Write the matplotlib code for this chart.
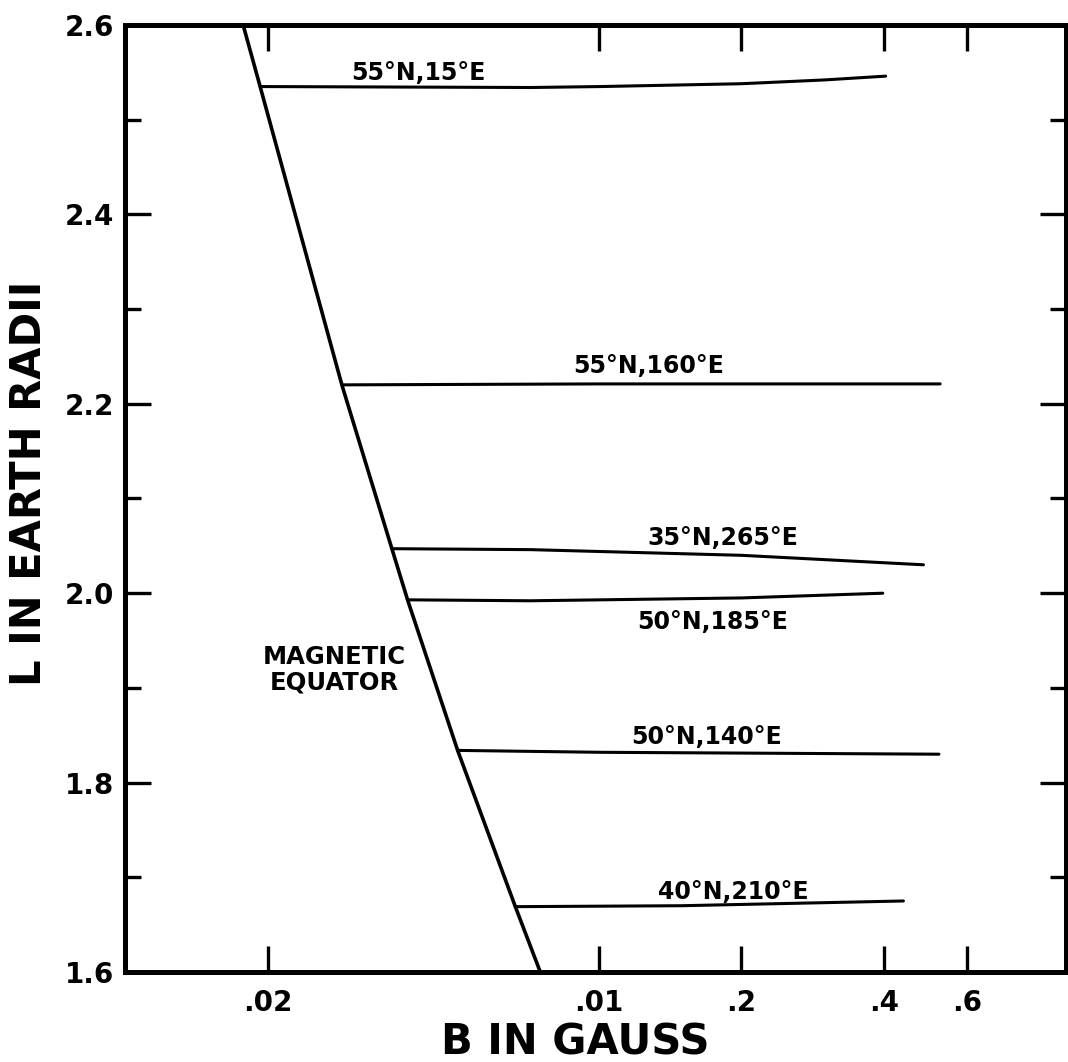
import matplotlib
matplotlib.use("Agg")
import matplotlib.pyplot as plt
from matplotlib.ticker import FixedLocator, NullLocator, FixedFormatter

# ---- data (B in gauss, L in earth radii) ----
equator_B = [0.01776, 0.01929, 0.02870, 0.03660, 0.03950, 0.05039, 0.06670, 0.0753]
equator_L = [2.600, 2.535, 2.220, 2.047, 1.993, 1.834, 1.669, 1.600]

line_55N15E_B = [0.01929, 0.0718, 0.1009, 0.2004, 0.3000, 0.4036]
line_55N15E_L = [2.535, 2.534, 2.535, 2.538, 2.542, 2.546]

line_55N160E_B = [0.02870, 0.1000, 0.526]
line_55N160E_L = [2.220, 2.221, 2.221]

line_35N265E_B = [0.03660, 0.0718, 0.2004, 0.485]
line_35N265E_L = [2.047, 2.046, 2.040, 2.030]

line_50N185E_B = [0.03950, 0.0718, 0.2004, 0.398]
line_50N185E_L = [1.993, 1.992, 1.995, 2.000]

line_50N140E_B = [0.05039, 0.1009, 0.523]
line_50N140E_L = [1.834, 1.832, 1.830]

line_40N210E_B = [0.06670, 0.150, 0.440]
line_40N210E_L = [1.669, 1.670, 1.675]

line_labels = ["55°N,15°E", "55°N,160°E", "35°N,265°E", "50°N,185°E", "50°N,140°E", "40°N,210°E"]
equator_label = "MAGNETIC\nEQUATOR"

x_ticks = [0.02, 0.1, 0.2, 0.4, 0.6]
x_tick_labels = [".02", ".01", ".2", ".4", ".6"]
y_major = [1.6, 1.8, 2.0, 2.2, 2.4, 2.6]
y_major_labels = ["1.6", "1.8", "2.0", "2.2", "2.4", "2.6"]
y_minor = [1.7, 1.9, 2.1, 2.3, 2.5]

# label anchor positions (layout)
label_pos = [(0.0416, 2.549), (0.1274, 2.240), (0.1827, 2.058),
             (0.1739, 1.970), (0.1689, 1.848), (0.1927, 1.6845)]
equator_label_pos = (0.02765, 1.919)

plt.rcParams['font.family'] = ['DejaVu Sans']
plt.rcParams['font.weight'] = 'bold'

fig = plt.figure(figsize=(10.68, 10.62), dpi=100)
ax = fig.add_axes([125/1068, 90/1062, 941/1068, 947/1062])

ax.set_xscale('log')
ax.set_xlim(0.01, 0.97)
ax.set_ylim(1.6, 2.6)

ax.plot(equator_B, equator_L, color='black', lw=2.6, solid_capstyle='round')
series = [
    (line_55N15E_B, line_55N15E_L),
    (line_55N160E_B, line_55N160E_L),
    (line_35N265E_B, line_35N265E_L),
    (line_50N185E_B, line_50N185E_L),
    (line_50N140E_B, line_50N140E_L),
    (line_40N210E_B, line_40N210E_L),
]
for (bx, ly) in series:
    ax.plot(bx, ly, color='black', lw=2.2, solid_capstyle='round')

for txt, (px, py) in zip(line_labels, label_pos):
    ax.text(px, py, txt, ha='center', va='center', fontsize=17,
            fontweight='bold', color='black')
ax.text(equator_label_pos[0], equator_label_pos[1], equator_label,
        ha='center', va='center', fontsize=17.5, fontweight='bold',
        linespacing=1.1, color='black')

for s in ax.spines.values():
    s.set_linewidth(3.6)
    s.set_color('black')

ax.xaxis.set_major_locator(FixedLocator(x_ticks))
ax.xaxis.set_major_formatter(FixedFormatter(x_tick_labels))
ax.xaxis.set_minor_locator(NullLocator())
ax.yaxis.set_major_locator(FixedLocator(y_major))
ax.yaxis.set_major_formatter(FixedFormatter(y_major_labels))
ax.yaxis.set_minor_locator(FixedLocator(y_minor))

ax.tick_params(axis='both', which='major', direction='in', length=19,
               width=2.4, top=True, right=True, labelsize=20, color='black')
ax.tick_params(axis='y', which='minor', direction='in', length=11.5,
               width=2.4, left=True, right=True)
ax.tick_params(axis='x', which='major', pad=12)
ax.tick_params(axis='y', which='major', pad=8)
for lab in ax.get_xticklabels() + ax.get_yticklabels():
    lab.set_fontweight('bold')

xl = ax.set_xlabel("B IN GAUSS", fontsize=30, fontweight='bold')
yl = ax.set_ylabel("L IN EARTH RADII", fontsize=30, fontweight='bold')
xl.set_verticalalignment('center')
xl.set_horizontalalignment('center')
yl.set_verticalalignment('center')
yl.set_horizontalalignment('center')
ax.xaxis.set_label_coords(0.478, -0.074)
ax.yaxis.set_label_coords(-0.102, 0.516)

fig.savefig("out.png", dpi=100, facecolor='white')
